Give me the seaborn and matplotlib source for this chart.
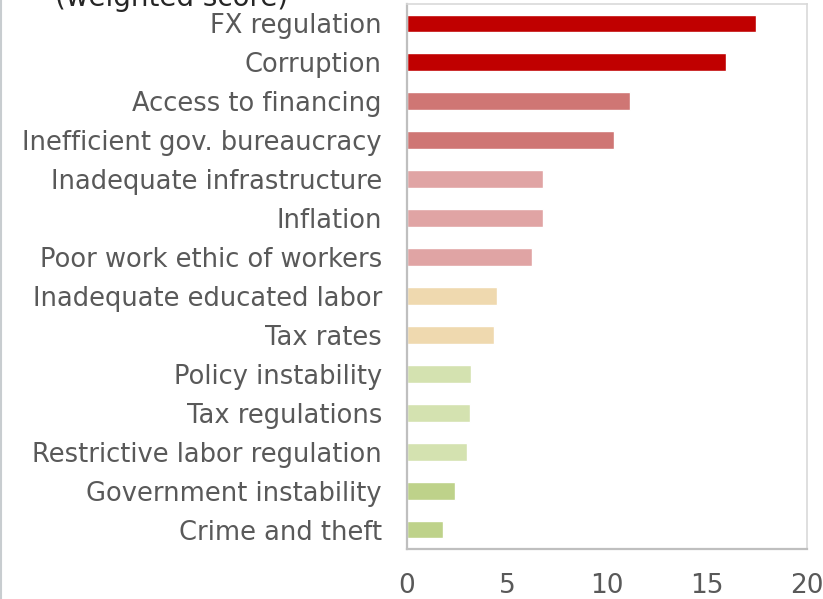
import numpy as np
import pandas as pd
import matplotlib
matplotlib.use("Agg")
import matplotlib.pyplot as plt
import seaborn as sns
from matplotlib.ticker import FixedLocator
from matplotlib.lines import Line2D

# Data
categories = [
    "FX regulation", "Corruption", "Access to financing",
    "Inefficient gov. bureaucracy", "Inadequate infrastructure", "Inflation",
    "Poor work ethic of workers", "Inadequate educated labor", "Tax rates",
    "Policy instability", "Tax regulations", "Restrictive labor regulation",
    "Government instability", "Crime and theft",
]
scores = [17.45, 15.95, 11.15, 10.35, 6.8, 6.8, 6.25, 4.5, 4.35, 3.2, 3.15, 3.0, 2.4, 1.8]
bar_colors = [
    "#C00000", "#C00000", "#CF7674", "#CF7674", "#E0A4A4", "#E0A4A4", "#E0A4A4",
    "#EFD9AF", "#EFD9AF", "#D4E2B0", "#D4E2B0", "#D4E2B0", "#BED28A", "#BED28A",
]
x_ticks = [0, 5, 10, 15, 20]

df = pd.DataFrame({"factor": categories, "score": scores})

sns.set_style("white")
plt.rcParams["font.family"] = ["DejaVu Sans"]
text_color = "#595959"

fig = plt.figure(figsize=(8.23, 5.99), dpi=100)
ax = fig.add_axes([407 / 823, 50 / 599, 400 / 823, 545 / 599])

sns.barplot(data=df, x="score", y="factor", hue="factor", palette=bar_colors,
            legend=False, width=0.46, dodge=False, ax=ax, saturation=1)

ax.set_xlim(0, 20)
ax.set_ylim(len(categories) - 0.5, -0.5)
ax.set_xticks(x_ticks)
ax.set_xlabel("")
ax.set_ylabel("")

# frame
for side in ["top", "right"]:
    ax.spines[side].set_color("#D9D9D9")
    ax.spines[side].set_linewidth(1.2)
for side in ["left", "bottom"]:
    ax.spines[side].set_color("#BFBFBF")
    ax.spines[side].set_linewidth(1.6)

ax.tick_params(axis="x", direction="in", length=7, width=1.2, color="#BFBFBF",
               labelsize=19, labelcolor=text_color, pad=17)
ax.tick_params(axis="y", which="major", length=0, labelsize=18.5,
               labelcolor=text_color, pad=18)
ax.yaxis.set_minor_locator(FixedLocator(np.arange(-0.5, len(categories), 1.0)))
ax.tick_params(axis="y", which="minor", direction="in", length=6, width=1.2,
               color="#BFBFBF")

# title line cut off at the top of the picture
fig.text(55 / 823, 1 - 6 / 599, "(weighted score)", fontsize=20, color="#262626",
         ha="left", va="baseline")

# thin border line at the left edge
fig.add_artist(Line2D([0.001, 0.001], [0, 1], color="#C8CDD0", lw=1.5,
                      transform=fig.transFigure))

fig.savefig("out.png", dpi=100)
